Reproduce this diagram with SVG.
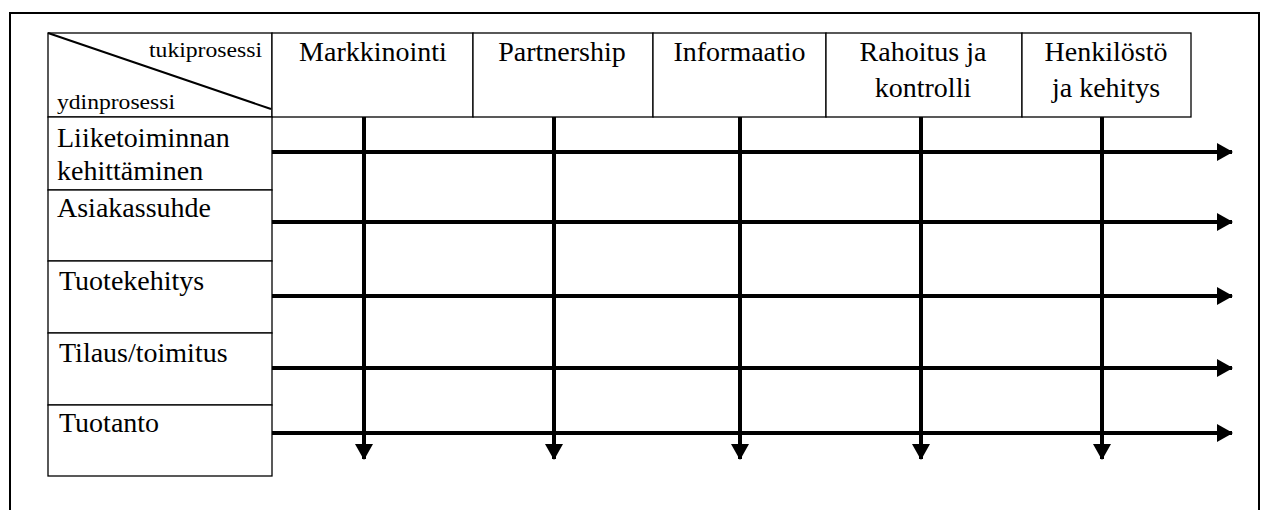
<svg xmlns="http://www.w3.org/2000/svg" width="1266" height="510" viewBox="0 0 1266 510">
  <defs>
    <marker id="head" viewBox="0 0 16 18" refX="15" refY="9" markerWidth="16" markerHeight="18" markerUnits="userSpaceOnUse" orient="auto">
      <path d="M0,0 L16,9 L0,18 Z" fill="#000"/>
    </marker>
    <style>
      .cell { fill: #fff; stroke: #000; stroke-width: 1.3; }
      .frame { fill: none; stroke: #000; stroke-width: 2; }
      .flow { stroke: #000; stroke-width: 4; fill: none; marker-end: url(#head); }
    </style>
  </defs>

  <rect width="1266" height="510" fill="#fff"/>
  <!-- outer frame, open at the bottom edge -->
  <path class="frame" d="M10,540 L10,13 L1259,13 L1259,540"/>

  <g font-family="'Liberation Serif', 'Times New Roman', Times, 'DejaVu Serif', serif" fill="#000">
    <!-- corner cell with diagonal split -->
    <g id="corner">
      <rect class="cell" x="48" y="33" width="224" height="84"/>
      <line x1="48" y1="33" x2="271" y2="109" stroke="#000" stroke-width="2"/>
      <text font-size="20" x="262" y="57" text-anchor="end" textLength="113" lengthAdjust="spacingAndGlyphs">tukiprosessi</text>
      <text font-size="20" x="57" y="109" textLength="118" lengthAdjust="spacingAndGlyphs">ydinprosessi</text>
    </g>

    <!-- support processes (columns) -->
    <g id="markkinointi" font-size="28" text-anchor="middle">
      <rect class="cell" x="272" y="33" width="201" height="84"/>
      <text x="373" y="61">Markkinointi</text>
    </g>
    <g id="partnership" font-size="28" text-anchor="middle">
      <rect class="cell" x="473" y="33" width="180" height="84"/>
      <text x="562" y="61">Partnership</text>
    </g>
    <g id="informaatio" font-size="28" text-anchor="middle">
      <rect class="cell" x="653" y="33" width="173" height="84"/>
      <text x="739.5" y="61">Informaatio</text>
    </g>
    <g id="rahoitus" font-size="28" text-anchor="middle">
      <rect class="cell" x="826" y="33" width="196" height="84"/>
      <text x="923" y="61">Rahoitus ja</text>
      <text x="923" y="97">kontrolli</text>
    </g>
    <g id="henkilosto" font-size="28" text-anchor="middle">
      <rect class="cell" x="1022" y="33" width="169" height="84"/>
      <text x="1106" y="61">Henkilöstö</text>
      <text x="1106" y="97">ja kehitys</text>
    </g>

    <!-- core processes (rows) -->
    <g id="liiketoiminta" font-size="28">
      <rect class="cell" x="48" y="117" width="224" height="73"/>
      <text x="57" y="147">Liiketoiminnan</text>
      <text x="57" y="180">kehittäminen</text>
    </g>
    <g id="asiakassuhde" font-size="28">
      <rect class="cell" x="48" y="190" width="224" height="71"/>
      <text x="57" y="217">Asiakassuhde</text>
    </g>
    <g id="tuotekehitys" font-size="28">
      <rect class="cell" x="48" y="261" width="224" height="72"/>
      <text x="59" y="290">Tuotekehitys</text>
    </g>
    <g id="tilaus" font-size="28">
      <rect class="cell" x="48" y="333" width="224" height="72"/>
      <text x="59" y="362">Tilaus/toimitus</text>
    </g>
    <g id="tuotanto" font-size="28">
      <rect class="cell" x="48" y="405" width="224" height="71"/>
      <text x="59" y="432">Tuotanto</text>
    </g>
  </g>

  <!-- connectors: core process flows (right) and support flows (down) -->
  <g id="connectors">
    <line class="flow" x1="272" y1="152" x2="1232" y2="152"/>
    <line class="flow" x1="272" y1="222" x2="1232" y2="222"/>
    <line class="flow" x1="272" y1="296" x2="1232" y2="296"/>
    <line class="flow" x1="272" y1="368" x2="1232" y2="368"/>
    <line class="flow" x1="272" y1="433" x2="1232" y2="433"/>

    <line class="flow" x1="364" y1="117" x2="364" y2="459"/>
    <line class="flow" x1="554" y1="117" x2="554" y2="459"/>
    <line class="flow" x1="740" y1="117" x2="740" y2="459"/>
    <line class="flow" x1="921" y1="117" x2="921" y2="459"/>
    <line class="flow" x1="1102" y1="117" x2="1102" y2="459"/>
  </g>
</svg>
